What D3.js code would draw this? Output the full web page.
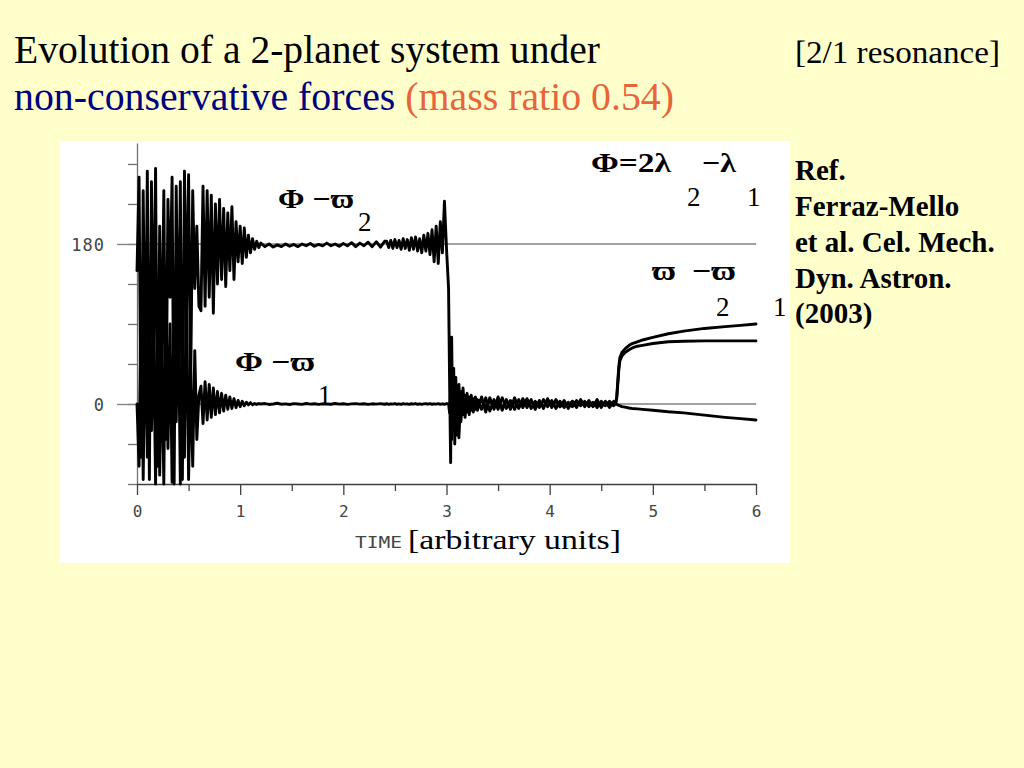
<!DOCTYPE html>
<html><head><meta charset="utf-8">
<script src="https://cdn.jsdelivr.net/npm/d3@7"></script>
<style>html,body{margin:0;padding:0;background:#FFFFCC;} svg{display:block}</style>
</head><body>
<svg id="c" width="1024" height="768"></svg>
<script>
// ---- data ----
const times = [
  0,0.02,0.04,0.06,0.08,0.10,0.12,0.14,0.16,0.18,0.20,0.22,0.24,0.26,0.28,0.30,0.32,0.34,0.36,0.38,0.40,0.42,0.44,0.46,0.48,0.50,0.52,0.54,0.56,0.58,0.60,
  0.62,0.64,0.66,0.68,0.70,0.72,0.74,0.76,0.78,0.80,0.82,0.84,0.86,0.88,0.90,0.92,0.94,0.96,0.98,1.00,1.02,1.04,1.06,1.08,1.10,1.12,1.14,1.16,1.18,1.20,
  1.24,1.28,1.32,1.36,1.40,1.44,1.48,1.52,1.56,1.60,1.64,1.68,1.72,1.76,1.80,1.84,1.88,1.92,1.96,2.00,2.04,2.08,2.12,2.16,2.20,2.24,2.28,2.32,2.36,2.40,
  2.42,2.44,2.46,2.48,2.50,2.52,2.54,2.56,2.58,2.60,2.62,2.64,2.66,2.68,2.70,2.72,2.74,2.76,2.78,2.80,2.82,2.84,2.86,2.88,2.90,2.92,2.94,2.96,2.98,3.00,
  3.02,3.03,3.04,3.05,3.06,3.07,3.08,3.09,3.10,3.12,3.14,3.16,3.18,3.20,3.22,3.24,3.26,3.28,3.30,
  3.34,3.38,3.42,3.46,3.50,3.54,3.58,3.62,3.66,3.70,3.74,3.78,3.82,3.86,3.90,3.94,3.98,4.02,4.06,4.10,4.14,4.18,4.22,4.26,4.30,4.34,4.38,4.42,4.46,4.50,4.54,4.58,4.62,
  4.64,4.65,4.66,4.67,4.68,4.70,4.73,4.77,4.80,4.85,4.90,5.00,5.15,5.30,5.50,5.70,5.85,6.00
];
// Phi - varpi2 (degrees)
const phiMinusVarpi2 = [
  150,255,-60,240,10,262,-85,250,60,265,-70,200,30,240,-40,230,120,255,-90,245,40,250,-85,262,100,258,20,240,130,200,110,
  105,245,110,240,120,235,102,225,135,230,140,220,132,215,150,222,140,205,160,200,158,198,165,190,170,186,174,183,176,181,
  177,180,176.5,179,177,180,177.5,179.5,177,180,178,180.5,177.5,179.5,178,181,178,180,177.5,180.5,178,181.5,177,181,178,182,177,182.5,176.5,183,
  183,176,184,175,185,176,184,174,186,175,185,173,187,174,188,172,186,170,190,172,192,168,196,160,200,158,205,170,228,175,
  130,25,-66,75,-30,40,-45,30,-35,22,-20,18,-15,12,-12,10,-9,8,-7,
  8,-9,7,-6,8,-7,5,-6,7,-5,6,-4,5,-6,4,-5,6,-4,5,-3,4,-5,3,-4,5,-3,4,-3,5,-4,3,-4,3,
  1,6,22,38,48,54,58,61,63,65,66,68,70,70.5,71,71,71,71
];
// Phi - varpi1 (degrees)
const phiMinusVarpi1 = [
  0,-70,130,-85,100,-60,150,-30,80,-90,120,-80,60,-90,140,-50,90,-88,130,-20,110,-90,70,-60,140,-85,40,-70,60,-40,10,
  20,-22,25,-18,22,-15,18,-12,14,-10,12,-8,10,-6,8,-5,6,-4,4,-3,3,-2,2,-1,1.5,-1,0.5,-0.5,0.5,0,
  0.5,-0.5,0,0.8,-0.3,0.2,-0.6,0.4,0,-0.4,0.6,-0.2,0.3,-0.5,0.2,0,-0.3,0.5,-0.2,0.3,-0.4,0.1,0.4,-0.2,0.3,-0.5,0.2,-0.1,0.4,-0.3,
  0.3,-0.4,0.2,-0.2,0.5,-0.3,0.1,-0.5,0.4,-0.1,0.2,-0.4,0.3,-0.2,0.5,-0.3,0.2,-0.4,0.1,0.3,-0.2,0.4,-0.3,0.2,-0.1,0.3,-0.4,0.2,-0.3,0.5,
  0,-10,15,-40,20,-25,30,-20,15,-38,14,-12,10,-9,8,-7,6,-6,5,
  -6,7,-8,5,-6,7,-5,4,-6,5,-4,6,-5,3,-4,5,-3,4,-5,3,-4,2,-3,4,-2,3,-3,2,-4,3,-2,3,-2,
  0,-0.5,-1,-1.5,-2,-3,-3.5,-4.5,-5,-5.5,-6,-7,-8.7,-10,-12.5,-15,-16.5,-18
];
// varpi2 - varpi1 (degrees), drawn from t = 3.10 on
const varpiDiffStart = 3.10;
const varpiDiff = [
  10,-12,9,-8,7,-6,6,-5,5,-4,4,
  4,-3,5,-4,3,-5,4,-3,2,-4,3,-2,4,-3,2,-3,4,-2,3,-3,2,-2,3,-2,2,-1,2,-2,1,-2,2,-1,1,
  1,8,25,42,52,58,62,66,68,70,72,75,79,82,85,87,88.5,90
];
const xMajorTicks = [0,1,2,3,4,5,6];
const xMinorTicks = [0.5,1.5,2.5,3.5,4.5,5.5];
const yMinorTicks = [-90,-45,0,45,90,135,180,225,270];
const yLabelTicks = [0,180];

// ---- drawing ----
const svg = d3.select("#c");
svg.append("rect").attr("width",1024).attr("height",768).attr("fill","#FFFFCC");
svg.append("rect").attr("x",60).attr("y",141).attr("width",730).attr("height",422).attr("fill","#FFFFFF");

const x = d3.scaleLinear().domain([0,6]).range([137,756]);
const y = d3.scaleLinear().domain([-90,293.6]).range([484,143]);

const monoFont = "'DejaVu Sans Mono', 'Liberation Mono', monospace";
const serif = "'Liberation Serif', 'DejaVu Serif', serif";

// gridlines at 0 and 180
svg.append("g").selectAll("line").data(yLabelTicks).join("line")
  .attr("x1",x(0)).attr("x2",x(6)).attr("y1",d=>y(d)).attr("y2",d=>y(d))
  .attr("stroke","#808080").attr("stroke-width",1.3);

// y axis minor ticks + axis line
const gy = svg.append("g").attr("transform",`translate(${x(0)},0)`)
  .call(d3.axisLeft(y).tickValues(yMinorTicks).tickSize(9).tickSizeOuter(0).tickFormat(""));
gy.selectAll("path,line").attr("stroke","#707070").attr("stroke-width",1.3);

// y axis major ticks with labels
const gy2 = svg.append("g").attr("transform",`translate(${x(0)},0)`)
  .call(d3.axisLeft(y).tickValues(yLabelTicks).tickSize(20).tickSizeOuter(0).tickPadding(12).tickFormat(d3.format("d")));
gy2.select(".domain").remove();
gy2.selectAll("line").attr("stroke","#808080").attr("stroke-width",1.3);
gy2.selectAll("text").attr("font-family",monoFont).attr("font-size",17).attr("fill","#444")
  .attr("letter-spacing",1).attr("dy","0.36em");

// x axis
const gx = svg.append("g").attr("transform",`translate(0,${y(-90)})`)
  .call(d3.axisBottom(x).tickValues(xMajorTicks).tickSize(11).tickSizeOuter(0).tickFormat(d3.format("d")));
gx.selectAll("path,line").attr("stroke","#404040").attr("stroke-width",1.3);
gx.selectAll("text").attr("font-family",monoFont).attr("font-size",16).attr("fill","#444")
  .attr("y",33).attr("dy",null);
const gx2 = svg.append("g").attr("transform",`translate(0,${y(-90)})`)
  .call(d3.axisBottom(x).tickValues(xMinorTicks).tickSize(7).tickSizeOuter(0).tickFormat(""));
gx2.select(".domain").remove();
gx2.selectAll("line").attr("stroke","#404040").attr("stroke-width",1.3);

// series
const line = d3.line().defined(d=>d.v!=null).x(d=>x(d.t)).y(d=>y(d.v));
const s2 = times.map((t,i)=>({t, v: phiMinusVarpi2[i]}));
const s1 = times.map((t,i)=>({t, v: phiMinusVarpi1[i]}));
const dwTimes = times.filter(t=>t>=varpiDiffStart-1e-9);
const s3 = dwTimes.map((t,i)=>({t, v: varpiDiff[i]}));
svg.append("g").selectAll("path").data([s2,s1,s3]).join("path")
  .attr("d",line).attr("fill","none").attr("stroke","#000")
  .attr("stroke-width",2.9).attr("stroke-linejoin","round").attr("stroke-linecap","round");

// axis title
svg.append("text").attr("x",355).attr("y",548).attr("font-family",monoFont).attr("font-size",15)
  .attr("fill","#444").attr("textLength",47).attr("lengthAdjust","spacingAndGlyphs").text("TIME");
svg.append("text").attr("x",408).attr("y",549).attr("font-family",serif).attr("font-size",28)
  .attr("fill","#000").attr("textLength",213).attr("lengthAdjust","spacingAndGlyphs").text("[arbitrary units]");

// titles
svg.append("text").attr("x",14).attr("y",63).attr("font-family",serif).attr("font-size",39)
  .attr("fill","#000").attr("textLength",586).attr("lengthAdjust","spacingAndGlyphs")
  .text("Evolution of a 2-planet system under");
svg.append("text").attr("x",795).attr("y",63).attr("font-family",serif).attr("font-size",31)
  .attr("fill","#000").attr("textLength",205).attr("lengthAdjust","spacingAndGlyphs")
  .text("[2/1 resonance]");
const t2 = svg.append("text").attr("x",14).attr("y",110).attr("font-family",serif).attr("font-size",39)
  .attr("textLength",660).attr("lengthAdjust","spacingAndGlyphs");
t2.append("tspan").attr("fill","#000080").text("non-conservative forces ");
t2.append("tspan").attr("fill","#E8643C").text("(mass ratio 0.54)");

// reference block
const refLines = ["Ref.","Ferraz-Mello","et al. Cel. Mech.","Dyn. Astron.","(2003)"];
const refBase = [180,216,252,288,323];
svg.append("g").selectAll("text").data(refLines).join("text")
  .attr("x",795).attr("y",(d,i)=>refBase[i]).attr("font-family",serif).attr("font-size",29)
  .attr("font-weight","bold").attr("fill","#000").text(d=>d);

// curve labels
function lab(xp, yp, txt, bold, len){
  const t = svg.append("text").attr("x",xp).attr("y",yp).attr("font-family",serif).attr("font-size",27)
    .attr("font-weight",bold?"bold":"normal").attr("fill","#000").text(txt);
  if(len) t.attr("textLength",len).attr("lengthAdjust","spacingAndGlyphs");
}
lab(591,172,"Φ=2λ",true,80);
lab(702,172,"−λ",true,34);
lab(687,206,"2",false);
lab(747,206,"1",false);
lab(278,208,"Φ −ϖ",true,76);
lab(358,231,"2",false);
lab(235,371,"Φ −ϖ",true,80);
lab(318,404,"1",false);
lab(652,280,"ϖ",true,24);
lab(692,280,"−ϖ",true,44);
lab(716,316,"2",false);
lab(773,316,"1",false);
</script>
</body></html>
